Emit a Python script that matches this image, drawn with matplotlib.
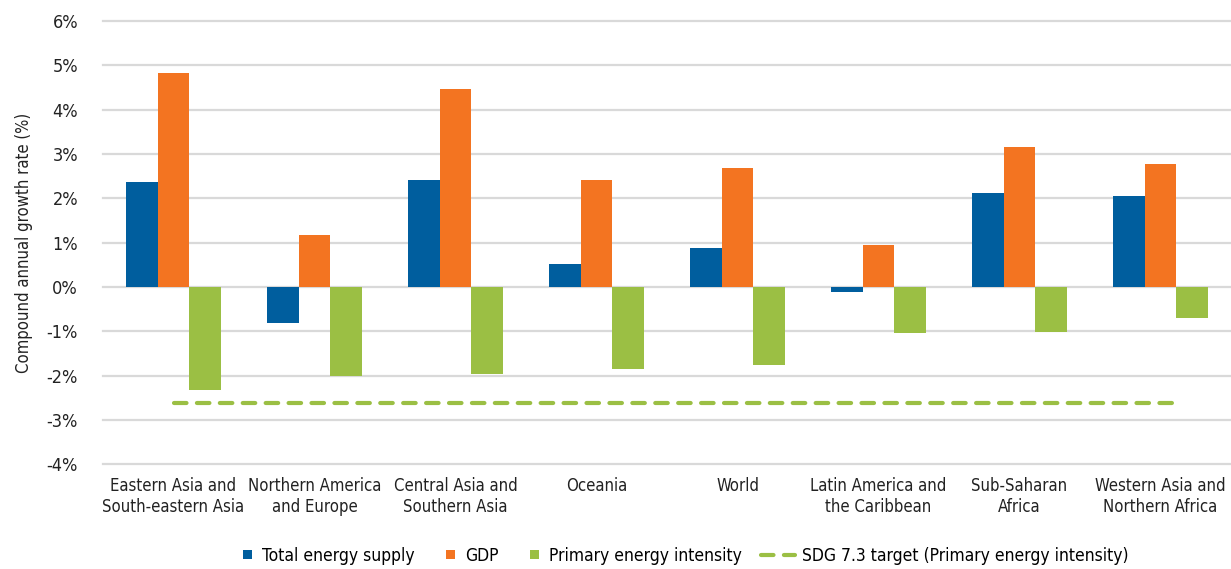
import matplotlib.pyplot as plt
import numpy as np
from matplotlib.patches import Rectangle
from matplotlib.legend_handler import HandlerPatch

plt.rcParams['font.family'] = ['Liberation Sans Narrow', 'DejaVu Sans']
plt.rcParams['font.stretch'] = 'condensed'

regions = ["Eastern Asia and\nSouth-eastern Asia", "Northern America\nand Europe",
           "Central Asia and\nSouthern Asia", "Oceania", "World",
           "Latin America and\nthe Caribbean", "Sub-Saharan\nAfrica",
           "Western Asia and\nNorthern Africa"]
energy_supply = [2.37, -0.81, 2.41, 0.52, 0.88, -0.11, 2.12, 2.05]
gdp = [4.83, 1.18, 4.46, 2.41, 2.68, 0.95, 3.17, 2.77]
energy_intensity = [-2.32, -2.00, -1.96, -1.85, -1.76, -1.03, -1.01, -0.70]
sdg_target = -2.62

c_blue = "#005E9E"
c_orange = "#F37421"
c_green = "#9BBF44"


def small_square(legend, orig_handle, xdescent, ydescent, width, height, fontsize):
    # little square at the right end of the handle box, like the original
    s = 6.5
    return Rectangle((-xdescent + width - s - 2, -ydescent + (height - s) / 2), s, s)


fig = plt.figure(figsize=(12.31, 5.69), dpi=100)
ax = fig.add_axes([0.0837, 0.1837, 0.9163, 0.7793])

x = np.arange(len(regions))
w = 0.226
b1 = ax.bar(x - w, energy_supply, w, color=c_blue, label="Total energy supply", zorder=3)
b2 = ax.bar(x, gdp, w, color=c_orange, label="GDP", zorder=3)
b3 = ax.bar(x + w, energy_intensity, w, color=c_green, label="Primary energy intensity", zorder=3)
ln, = ax.plot([x[0], x[-1] + 0.08], [sdg_target, sdg_target], color=c_green, lw=3,
              dashes=(3, 2.5), dash_capstyle='round',
              label="SDG 7.3 target (Primary energy intensity)", zorder=4)

ax.set_xlim(-0.5, len(regions) - 0.5)
ax.set_ylim(-4, 6)
ax.set_yticks(np.arange(-4, 7, 1))
ax.set_yticklabels([f"{v}%" for v in range(-4, 7)])
ax.set_xticks(x)
ax.set_xticklabels(regions)
ax.grid(axis='y', color='#d9d9d9', lw=1.6, zorder=0)
for gl in ax.get_ygridlines():
    gl.set_clip_on(False)
for s in ax.spines.values():
    s.set_visible(False)
ax.tick_params(axis='both', length=0, colors='#222222')
ax.tick_params(axis='y', pad=18, labelsize=13)
ax.tick_params(axis='x', pad=9, labelsize=12)
ax.set_ylabel("Compound annual growth rate (%)", fontsize=12, color='#222222', labelpad=10)

# two legends side by side: squares for the bars, then the dashed target line
sq = HandlerPatch(patch_func=small_square)
leg_y = -0.014
leg_kw = dict(loc='lower left', frameon=False, fontsize=12.5, borderpad=0.2,
              handleheight=0.7, handletextpad=0.4)
leg1 = fig.legend([b1[0], b2[0], b3[0]], [b1.get_label(), b2.get_label(), b3.get_label()],
                  handler_map={b1[0]: sq, b2[0]: sq, b3[0]: sq}, ncol=3,
                  bbox_to_anchor=(0, leg_y), handlelength=1.0, columnspacing=1.5, **leg_kw)
leg2 = fig.legend([ln], [ln.get_label()], bbox_to_anchor=(0, leg_y),
                  handlelength=2.0, **leg_kw)

fig.canvas.draw()
W = fig.bbox.width
w1 = leg1.get_window_extent().width
w2 = leg2.get_window_extent().width
gap = 12
start = 0.548 * W - (w1 + gap + w2) / 2
leg1.set_bbox_to_anchor((start / W, leg_y), transform=fig.transFigure)
leg2.set_bbox_to_anchor(((start + w1 + gap) / W, leg_y), transform=fig.transFigure)

fig.savefig("out.png", dpi=100)
